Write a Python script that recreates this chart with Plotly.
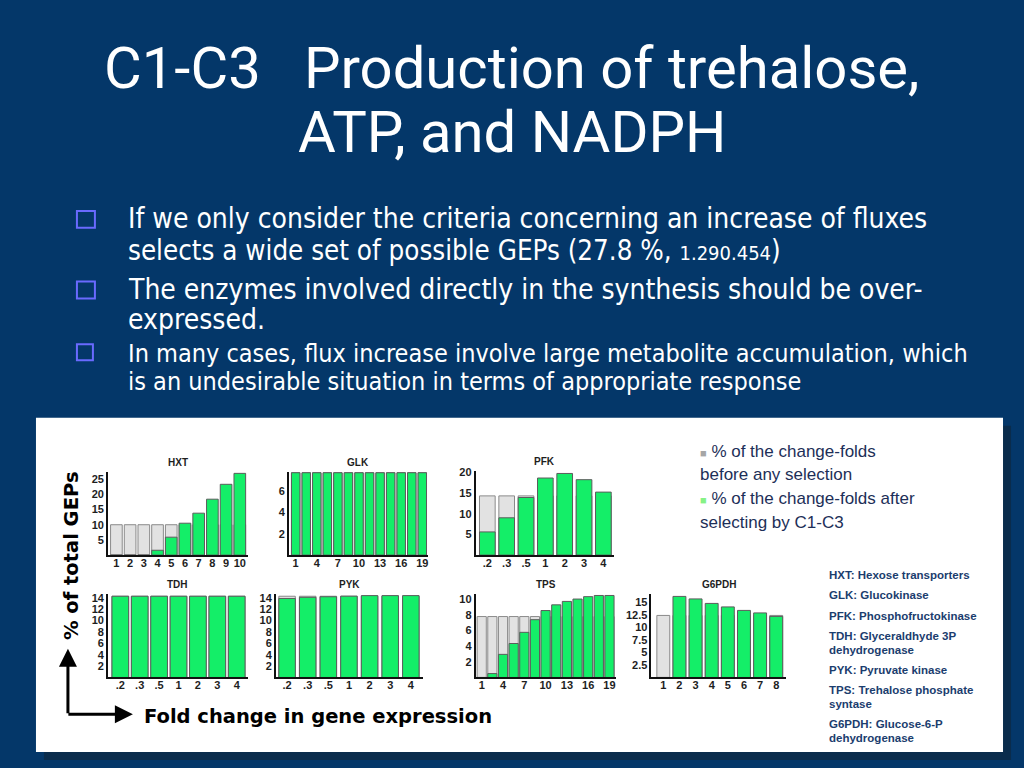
import plotly.graph_objects as go

W, H = 1024, 768


def px(x):
    return x / W


def py(y):
    return 1 - y / H


# ---------------- data ----------------
hxt_folds = ["1", "2", "3", "4", "5", "6", "7", "8", "9", "10"]
hxt_before = [10, 10, 10, 10, 10, 10, 10, 10, 10, 10]
hxt_after = [0, 0, 0, 1.6, 5.9, 10.5, 13.8, 18.4, 23.3, 26.9]

glk_folds = ["1", "2.5", "4", "5.5", "7", "8.5", "10", "11.5", "13", "14.5", "16", "17.5", "19"]
glk_before = [7.69, 7.69, 7.69, 7.69, 7.69, 7.69, 7.69, 7.69, 7.69, 7.69, 7.69, 7.69, 7.69]
glk_after = [7.69, 7.69, 7.69, 7.69, 7.69, 7.69, 7.69, 7.69, 7.69, 7.69, 7.69, 7.69, 7.69]

pfk_folds = [".2", ".3", ".5", "1", "2", "3", "4"]
pfk_before = [14.29, 14.29, 14.29, 14.29, 14.29, 14.29, 14.29]
pfk_after = [5.6, 9.0, 13.9, 18.6, 19.7, 18.2, 15.2]

tdh_folds = [".2", ".3", ".5", "1", "2", "3", "4"]
tdh_before = [14.29, 14.29, 14.29, 14.29, 14.29, 14.29, 14.29]
tdh_after = [14.29, 14.29, 14.29, 14.29, 14.29, 14.29, 14.29]

pyk_folds = [".2", ".3", ".5", "1", "2", "3", "4"]
pyk_before = [14.29, 14.29, 14.29, 14.29, 14.29, 14.29, 14.29]
pyk_after = [13.9, 14.1, 14.2, 14.3, 14.4, 14.4, 14.4]

tps_folds = ["1", "2.5", "4", "5.5", "7", "8.5", "10", "11.5", "13", "14.5", "16", "17.5", "19"]
tps_before = [7.8, 7.8, 7.8, 7.8, 7.8, 7.8, 7.8, 7.8, 7.8, 7.8, 7.8, 7.8, 7.8]
tps_after = [0, 0.5, 2.96, 4.35, 5.78, 7.4, 8.57, 9.3, 9.74, 10.04, 10.35, 10.5, 10.5]

g6pdh_folds = ["1", "2", "3", "4", "5", "6", "7", "8"]
g6pdh_before = [12.4, 12.4, 12.4, 12.4, 12.4, 12.4, 12.4, 12.4]
g6pdh_after = [0, 16.2, 15.7, 14.8, 14.1, 13.4, 12.9, 12.2]

sparse_ticks = ["1", "4", "7", "10", "13", "16", "19"]

hxt_yticks = [5, 10, 15, 20, 25]
glk_yticks = [2, 4, 6]
pfk_yticks = [5, 10, 15, 20]
tdh_yticks = [2, 4, 6, 8, 10, 12, 14]
tps_yticks = [2, 4, 6, 8, 10]
g6pdh_yticks = [2.5, 5, 7.5, 10, 12.5, 15]

# ---------------- panel layout (positions/styles) ----------------
panels = [
    # name, folds, before, after, xticks, yticks, yrange, xrange, (x0,x1) px, (ytop,ybot) px, barwidth
    ("HXT", hxt_folds, hxt_before, hxt_after, hxt_folds, hxt_yticks, [0, 27.5], [-0.62, 9.58], (108, 248), (470, 554), 0.85),
    ("GLK", glk_folds, glk_before, glk_after, sparse_ticks, glk_yticks, [0, 7.8], [-0.66, 12.5], (289, 428), (470, 554), 0.8),
    ("PFK", pfk_folds, pfk_before, pfk_after, pfk_folds, pfk_yticks, [0, 20.4], [-0.61, 6.57], (476, 615), (469, 554), 0.81),
    ("TDH", tdh_folds, tdh_before, tdh_after, tdh_folds, tdh_yticks, [0, 14.7], [-0.64, 6.57], (108, 248), (593, 677), 0.86),
    ("PYK", pyk_folds, pyk_before, pyk_after, pyk_folds, tdh_yticks, [0, 14.7], [-0.55, 6.57], (276, 423), (593, 677), 0.8),
    ("TPS", tps_folds, tps_before, tps_after, sparse_ticks, tps_yticks, [0, 10.7], [-0.58, 12.65], (476, 617), (593, 677), 0.86),
    ("G6PDH", g6pdh_folds, g6pdh_before, g6pdh_after, g6pdh_folds, g6pdh_yticks, [0, 16.7], [-0.74, 7.62], (652, 787), (593, 677), 0.8),
]

GRAY = "#e2e2e2"
GRAY_LINE = "#8a8a8a"
GREEN = "#14ee68"
GREEN_LINE = "#5c5c5c"
BG = "#043769"
TICKFONT = dict(family="Liberation Sans, Arial, sans-serif", size=11, color="#1e1e1e", weight="bold")

fig = go.Figure()
layout = dict(
    width=W, height=H,
    margin=dict(l=0, r=0, t=0, b=0),
    paper_bgcolor=BG,
    plot_bgcolor="rgba(0,0,0,0)",
    barmode="overlay",
    showlegend=False,
)
annotations = []

for i, (name, folds, before, after, xt, yt, yr, xr, (x0, x1), (yt_px, yb_px), bw) in enumerate(panels):
    n = i + 1
    xref = "x" if n == 1 else f"x{n}"
    yref = "y" if n == 1 else f"y{n}"
    fig.add_trace(go.Bar(x=folds, y=before, width=bw, xaxis=xref, yaxis=yref,
                         marker=dict(color=GRAY, line=dict(color=GRAY_LINE, width=1)),
                         hoverinfo="skip"))
    fig.add_trace(go.Bar(x=folds, y=after, width=bw, xaxis=xref, yaxis=yref,
                         marker=dict(color=GREEN, line=dict(color=GREEN_LINE, width=1)),
                         hoverinfo="skip"))
    xkey = "xaxis" if n == 1 else f"xaxis{n}"
    ykey = "yaxis" if n == 1 else f"yaxis{n}"
    layout[xkey] = dict(
        domain=[px(x0), px(x1)], anchor=yref, type="category",
        categoryorder="array", categoryarray=folds, range=xr,
        tickmode="array", tickvals=xt, ticktext=xt,
        showline=True, linecolor="#111", linewidth=1.5, ticks="",
        showgrid=False, zeroline=False, tickfont=TICKFONT, fixedrange=True,
        ticklabelstandoff=-3,
    )
    layout[ykey] = dict(
        domain=[py(yb_px), py(yt_px)], anchor=xref, range=yr,
        tickmode="array", tickvals=yt, ticktext=[str(v) for v in yt],
        showline=True, linecolor="#111", linewidth=1.5, ticks="",
        showgrid=False, zeroline=False, tickfont=TICKFONT, fixedrange=True,
    )
    annotations.append(dict(
        x=px((x0 + x1) / 2), y=py(yt_px - 9), xref="paper", yref="paper",
        text=f"<b>{name}</b>", showarrow=False, xanchor="center", yanchor="middle",
        font=dict(family="Liberation Sans, Arial, sans-serif", size=10, color="#1e1e1e"),
    ))

# ---------------- slide text ----------------
TITLE_FONT = dict(family="Roboto, Liberation Sans, sans-serif", size=58, color="white")
annotations.append(dict(x=0.5, y=py(64), xref="paper", yref="paper", showarrow=False,
                        text="C1-C3\u00a0\u00a0 Production of trehalose,", font=TITLE_FONT,
                        xanchor="center", yanchor="middle"))
annotations.append(dict(x=0.5, y=py(129), xref="paper", yref="paper", showarrow=False,
                        text="ATP, and NADPH", font=TITLE_FONT, xanchor="center", yanchor="middle"))

BODY = "DejaVu Sans Condensed, DejaVu Sans, sans-serif"
body_lines = [
    ("If we only consider the criteria concerning an increase of fluxes", 216, 28),
    ("selects a wide set of possible GEPs (27.8 %, <span style='font-size:20px'>1.290.454</span>)", 247, 27.5),
    ("The enzymes involved directly in the synthesis should be over-", 287, 28),
    ("expressed.", 317, 28),
    ("In many cases, flux increase involve large metabolite accumulation, which", 351, 25),
    ("is an undesirable situation in terms of appropriate response", 379, 25),
]
for txt, y, s in body_lines:
    annotations.append(dict(x=px(126), y=py(y), xref="paper", yref="paper", showarrow=False,
                            text=txt, xanchor="left", yanchor="middle",
                            font=dict(family=BODY, size=s, color="white")))

shapes = []
# shadow + white panel
shapes.append(dict(type="rect", xref="paper", yref="paper", x0=px(44), x1=px(1012), y0=py(760), y1=py(424),
                   fillcolor="#0a2c4c", line=dict(width=0), layer="below"))
shapes.append(dict(type="rect", xref="paper", yref="paper", x0=px(36), x1=px(1004), y0=py(752), y1=py(416),
                   fillcolor="white", line=dict(width=0), layer="below"))
# bullets
for (bx0, by0, bx1, by1) in [(77, 208, 95, 225), (77, 279, 95, 296), (77, 342, 93, 358)]:
    shapes.append(dict(type="rect", xref="paper", yref="paper", x0=px(bx0), x1=px(bx1), y0=py(by1), y1=py(by0),
                       fillcolor="rgba(0,0,0,0)", line=dict(color="#6a6aff", width=2)))

# legend text
LEG = dict(family="Liberation Sans, Arial, sans-serif", size=17, color="#1d2f58")
legend_lines = [
    ("<span style='color:#a6a6a6;font-size:11px'>■</span> % of the change-folds", 450),
    ("before any selection", 473),
    ("<span style='color:#86f286;font-size:11px'>■</span> % of the change-folds after", 497),
    ("selecting by C1-C3", 521),
]
for txt, y in legend_lines:
    annotations.append(dict(x=px(699), y=py(y), xref="paper", yref="paper", showarrow=False,
                            text=txt, xanchor="left", yanchor="middle", font=LEG))

# enzyme glossary
GLO = dict(family="Liberation Sans, Arial, sans-serif", size=11.5, color="#1b3d6e")
glossary = [
    ("HXT: Hexose transporters", 574),
    ("GLK: Glucokinase", 594),
    ("PFK: Phosphofructokinase", 615),
    ("TDH: Glyceraldhyde 3P", 635),
    ("dehydrogenase", 649),
    ("PYK: Pyruvate kinase", 669),
    ("TPS: Trehalose phosphate", 690),
    ("syntase", 704),
    ("G6PDH: Glucose-6-P", 724),
    ("dehydrogenase", 738),
]
for txt, y in glossary:
    annotations.append(dict(x=px(828), y=py(y), xref="paper", yref="paper", showarrow=False,
                            text=f"<b>{txt}</b>", xanchor="left", yanchor="middle", font=GLO))

# axis labels and arrows
AXF = dict(family="DejaVu Sans, Verdana, sans-serif", size=19.5, color="black")
annotations.append(dict(x=px(71), y=py(554), xref="paper", yref="paper", showarrow=False,
                        text="<b>% of total GEPs</b>", textangle=-90, xanchor="center", yanchor="middle", font=AXF))
annotations.append(dict(x=px(142), y=py(716), xref="paper", yref="paper", showarrow=False,
                        text="<b>Fold change in gene expression</b>", xanchor="left", yanchor="middle", font=AXF))
annotations.append(dict(x=px(68), y=py(648), xref="paper", yref="paper", ax=0, ay=66, text="",
                        showarrow=True, arrowhead=2, arrowsize=1.2, arrowwidth=3, arrowcolor="black"))
annotations.append(dict(x=px(133), y=py(714), xref="paper", yref="paper", ax=-66, ay=0, text="",
                        showarrow=True, arrowhead=2, arrowsize=1.2, arrowwidth=3, arrowcolor="black"))

layout["annotations"] = annotations
layout["shapes"] = shapes
fig.update_layout(**layout)
fig.write_html(
    "out.html",
    config={"displayModeBar": False},
    post_script="document.body.style.margin='0';document.body.style.overflow='hidden';",
)
